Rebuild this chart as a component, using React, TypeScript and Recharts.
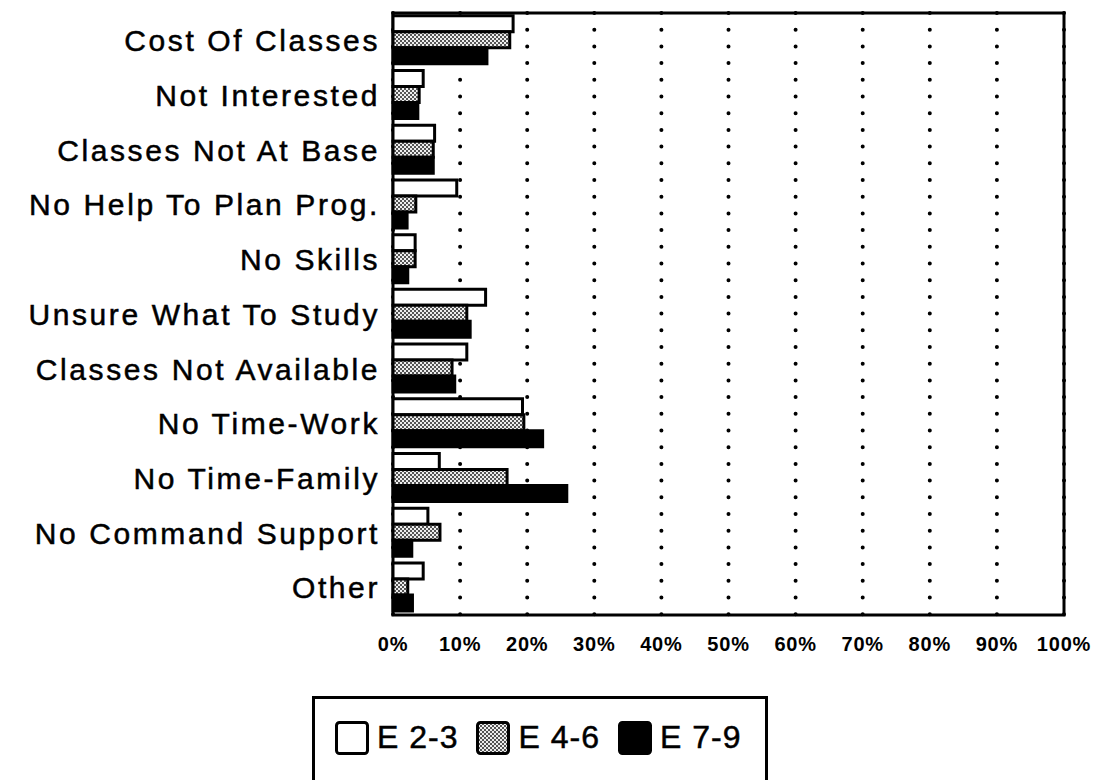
import { BarChart, Bar, XAxis, YAxis, CartesianGrid, ReferenceArea, Legend } from "recharts";

const categories = [
  "Cost Of Classes",
  "Not Interested",
  "Classes Not At Base",
  "No Help To Plan Prog.",
  "No Skills",
  "Unsure What To Study",
  "Classes Not Available",
  "No Time-Work",
  "No Time-Family",
  "No Command Support",
  "Other",
];

const e23 = [17.9, 4.5, 6.2, 9.5, 3.3, 13.8, 11.0, 19.3, 6.9, 5.2, 4.5];
const e46 = [17.4, 3.9, 6.0, 3.4, 3.3, 11.0, 8.8, 19.5, 17.0, 7.0, 2.2];
const e79 = [14.0, 3.7, 6.0, 2.1, 2.2, 11.5, 9.2, 22.3, 25.9, 2.8, 2.9];

const xTicks = [0, 10, 20, 30, 40, 50, 60, 70, 80, 90, 100];

const seriesNames = ["E 2-3", "E 4-6", "E 7-9"];

const data = categories.map((name, i) => ({ name, e23: e23[i], e46: e46[i], e79: e79[i] }));

const FONT = "'Liberation Sans', Arial, Helvetica, sans-serif";

function CategoryTick(props: any) {
  const { x, y, payload } = props;
  return (
    <text
      x={x - 5}
      y={y}
      dy="0.36em"
      textAnchor="end"
      fontFamily={FONT}
      fontSize={30}
      letterSpacing={2.6}
      fill="#000"
      stroke="#000"
      strokeWidth={0.5}
    >
      {payload.value}
    </text>
  );
}

function LegendBox() {
  const swatch = (fill: string) => (
    <svg width={34} height={34} style={{ display: "block" }}>
      <rect x={1.5} y={1.5} width={31} height={31} rx={3} fill={fill} stroke="#000" strokeWidth={3} />
    </svg>
  );
  const fills = ["#fff", "url(#dither)", "#000"];
  return (
    <div
      style={{
        position: "absolute",
        left: 312,
        top: 696,
        width: 456,
        height: 120,
        border: "3px solid #000",
        boxSizing: "border-box",
        fontFamily: FONT,
        fontSize: 32,
        color: "#000",
        WebkitTextStroke: "0.5px #000",
      }}
    >
      <div style={{ display: "flex", alignItems: "center", marginTop: 20, marginLeft: 20 }}>
        {seriesNames.map((n, i) => (
          <div key={n} style={{ display: "flex", alignItems: "center", marginRight: 18 }}>
            {swatch(fills[i])}
            <span style={{ marginLeft: 8, letterSpacing: 1 }}>{n}</span>
          </div>
        ))}
      </div>
    </div>
  );
}

export default function App() {
  return (
    <div style={{ position: "absolute", left: 0, top: 0, width: 1103, height: 780, background: "#fff", overflow: "hidden" }}>
      <svg width={0} height={0} style={{ position: "absolute" }}>
        <defs>
          <pattern id="dither" width={4} height={4} patternUnits="userSpaceOnUse">
            <rect width={4} height={4} fill="#eeeeee" />
            <rect x={0} y={0} width={2} height={2} fill="#555" />
            <rect x={2} y={2} width={2} height={2} fill="#555" />
          </pattern>
        </defs>
      </svg>
      <BarChart
        width={1103}
        height={780}
        data={data}
        layout="vertical"
        margin={{ top: 13, right: 39, left: 0, bottom: 125 }}
        barCategoryGap="5%"
        barGap={0}
      >
        <CartesianGrid
          horizontal={false}
          stroke="#000"
          strokeWidth={4}
          strokeDasharray="0 16.7"
          strokeLinecap="round"
        />
        <XAxis
          type="number"
          domain={[0, 100]}
          ticks={xTicks}
          tickFormatter={(v: number) => `${v}%`}
          axisLine={false}
          tickLine={false}
          tickMargin={16}
          height={40}
          tick={{ fontFamily: FONT, fontSize: 20, fontWeight: 700, fill: "#000", letterSpacing: 0.8 }}
          interval={0}
        />
        <YAxis
          type="category"
          dataKey="name"
          width={393}
          axisLine={false}
          tickLine={false}
          interval={0}
          tick={<CategoryTick />}
        />
        <Bar dataKey="e23" name={seriesNames[0]} fill="#fff" stroke="#000" strokeWidth={3} isAnimationActive={false} />
        <Bar dataKey="e46" name={seriesNames[1]} fill="url(#dither)" stroke="#000" strokeWidth={3} isAnimationActive={false} />
        <Bar dataKey="e79" name={seriesNames[2]} fill="#000" stroke="#000" strokeWidth={3} isAnimationActive={false} />
        <ReferenceArea x1={0} x2={100} fill="none" stroke="#000" strokeWidth={3} ifOverflow="visible" />
        <Legend content={() => null} />
      </BarChart>
      <LegendBox />
    </div>
  );
}
